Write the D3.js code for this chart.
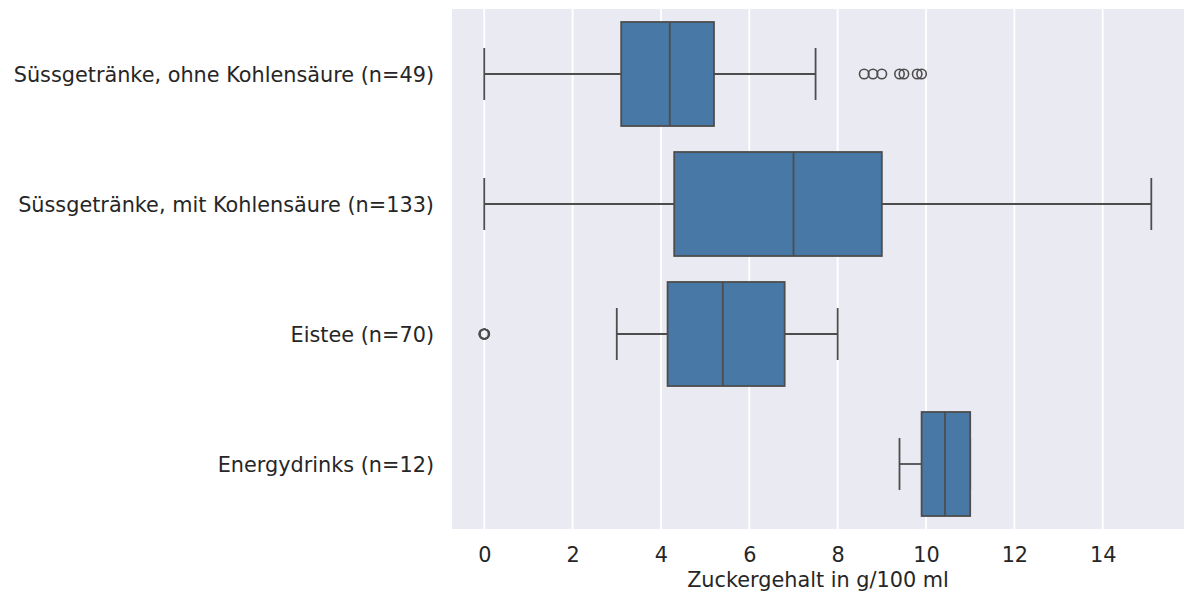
<!DOCTYPE html>
<html><head><meta charset="utf-8">
<script src="https://cdn.jsdelivr.net/npm/d3@7"></script>
<style>body{margin:0;background:#fff;}svg{display:block;font-family:"DejaVu Sans",sans-serif;}</style>
</head><body>
<svg id="chart" width="1184" height="596"></svg>
<script>
const categories = ["Süssgetränke, ohne Kohlensäure (n=49)", "Süssgetränke, mit Kohlensäure (n=133)", "Eistee (n=70)", "Energydrinks (n=12)"];
const whiskerLow = [0, 0, 3.0, 9.4];
const q1 = [3.1, 4.3, 4.15, 9.9];
const median = [4.2, 7.0, 5.4, 10.43];
const q3 = [5.2, 9.0, 6.8, 11.0];
const whiskerHigh = [7.5, 15.1, 8.0, 11.0];
const outliers = [[8.6, 8.8, 9.0, 9.4, 9.5, 9.8, 9.9], [], [0, 0.01, 0, -0.01, 0], []];
const xTicks = [0, 2, 4, 6, 8, 10, 12, 14];
const xLabel = "Zuckergehalt in g/100 ml";

const svg = d3.select("#chart");
const m = {left: 452, right: 1184, top: 9, bottom: 529};
const x = d3.scaleLinear().domain([-0.73, 15.84]).range([m.left, m.right]);
const y = d3.scaleBand().domain(categories).range([m.top, m.bottom]);
const lineCol = "#4d4d4d", fill = "#4878a6";
const fs = 20.8;

svg.append("rect").attr("x", m.left).attr("y", m.top).attr("width", m.right - m.left).attr("height", m.bottom - m.top).attr("fill", "#eaeaf2");

const xAxis = svg.append("g").attr("transform", `translate(0,${m.bottom})`)
  .call(d3.axisBottom(x).tickValues(xTicks).tickSize(0).tickPadding(18).tickFormat(d3.format("d")));
xAxis.select(".domain").remove();
xAxis.selectAll("text").attr("font-size", fs).attr("fill", "#262626").attr("font-family", "DejaVu Sans");

svg.append("g").selectAll("line").data(xTicks).join("line")
  .attr("x1", d => x(d)).attr("x2", d => x(d)).attr("y1", m.top).attr("y2", m.bottom)
  .attr("stroke", "#fff").attr("stroke-width", 1.8);

const yAxis = svg.append("g").attr("transform", `translate(${m.left},1)`)
  .call(d3.axisLeft(y).tickSize(0).tickPadding(18));
yAxis.select(".domain").remove();
yAxis.selectAll("text").attr("font-size", fs).attr("fill", "#262626").attr("font-family", "DejaVu Sans");

svg.append("text").attr("x", (m.left + m.right) / 2).attr("y", 587).attr("text-anchor", "middle")
  .attr("font-size", fs).attr("fill", "#262626").text(xLabel);

const bw = y.bandwidth() * 0.8;
categories.forEach((c, i) => {
  const cy = y(c) + y.bandwidth() / 2;
  const g = svg.append("g");
  g.append("line").attr("x1", x(whiskerLow[i])).attr("x2", x(q1[i])).attr("y1", cy).attr("y2", cy).attr("stroke", lineCol).attr("stroke-width", 1.8);
  g.append("line").attr("x1", x(q3[i])).attr("x2", x(whiskerHigh[i])).attr("y1", cy).attr("y2", cy).attr("stroke", lineCol).attr("stroke-width", 1.8);
  [whiskerLow[i], whiskerHigh[i]].forEach(v => {
    g.append("line").attr("x1", x(v)).attr("x2", x(v)).attr("y1", cy - bw / 4).attr("y2", cy + bw / 4).attr("stroke", lineCol).attr("stroke-width", 1.8);
  });
  g.append("rect").attr("x", x(q1[i])).attr("y", cy - bw / 2).attr("width", x(q3[i]) - x(q1[i])).attr("height", bw)
    .attr("fill", fill).attr("stroke", lineCol).attr("stroke-width", 1.8);
  g.append("line").attr("x1", x(median[i])).attr("x2", x(median[i])).attr("y1", cy - bw / 2).attr("y2", cy + bw / 2).attr("stroke", lineCol).attr("stroke-width", 1.8);
  g.selectAll("circle").data(outliers[i]).join("circle")
    .attr("cx", d => x(d)).attr("cy", cy).attr("r", 4.7)
    .attr("fill", "none").attr("stroke", lineCol).attr("stroke-width", 1.6);
});
</script>
</body></html>
